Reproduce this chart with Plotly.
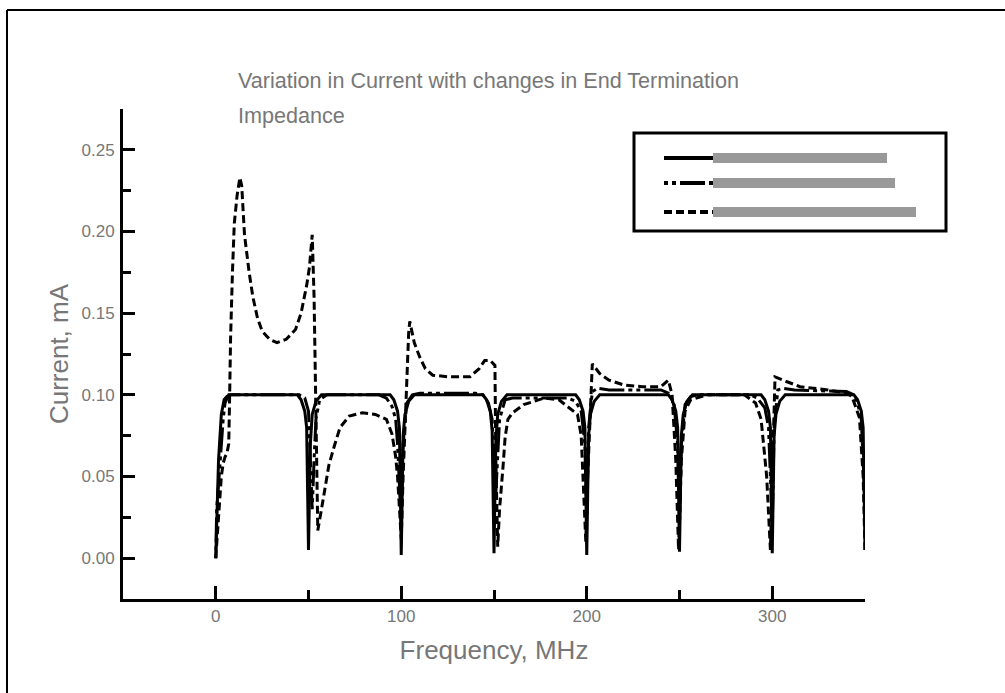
import plotly.graph_objects as go

# ---------------- data ----------------
freq_solid = [0, 0.5, 1.5, 3, 4.5, 6, 8,
              44, 46, 48, 49, 50, 51, 52, 54, 57,
              94, 96, 98, 99, 100, 101, 102, 104, 107,
              144, 146, 148, 149, 150, 151, 152, 154, 157,
              194, 196, 198, 199, 200, 201, 202, 204, 207,
              244, 246, 248, 249, 250, 251, 252, 254, 257,
              294, 296, 298, 299, 300, 301, 302, 304, 307,
              344, 346, 348, 349, 350]
cur_solid = [0.0, 0.02, 0.06, 0.088, 0.097, 0.099, 0.100,
             0.100, 0.097, 0.090, 0.080, 0.005, 0.070, 0.088, 0.096, 0.100,
             0.100, 0.097, 0.090, 0.080, 0.002, 0.075, 0.088, 0.096, 0.100,
             0.100, 0.097, 0.090, 0.078, 0.003, 0.072, 0.088, 0.096, 0.100,
             0.100, 0.097, 0.090, 0.080, 0.002, 0.075, 0.088, 0.096, 0.100,
             0.100, 0.097, 0.090, 0.080, 0.004, 0.075, 0.088, 0.096, 0.100,
             0.100, 0.097, 0.090, 0.080, 0.003, 0.075, 0.088, 0.096, 0.100,
             0.100, 0.097, 0.090, 0.080, 0.005]

freq_dashdot = [0, 0.5, 1.5, 3, 4, 5, 7, 45, 48, 50,
                51, 52, 53, 54, 56, 60, 88, 92, 95, 97,
                98, 99, 100, 101, 103, 106, 110, 140, 144, 147,
                149, 150, 151, 153, 156, 160, 190, 194, 197, 199,
                200, 201, 203, 206, 212, 240, 244, 247, 249, 250,
                251, 253, 256, 260, 288, 292, 296, 298, 299, 300,
                301, 303, 306, 312, 340, 344, 346, 348, 349, 350]
cur_dashdot = [0.0, 0.03, 0.045, 0.07, 0.085, 0.095, 0.10, 0.10, 0.098, 0.09,
               0.06, 0.03, 0.06, 0.085, 0.097, 0.10, 0.10, 0.098, 0.093, 0.085,
               0.07, 0.04, 0.02, 0.07, 0.095, 0.10, 0.101, 0.101, 0.10, 0.095,
               0.085, 0.06, 0.04, 0.085, 0.097, 0.098, 0.098, 0.096, 0.09, 0.07,
               0.03, 0.08, 0.102, 0.104, 0.103, 0.103, 0.101, 0.095, 0.07, 0.02,
               0.07, 0.094, 0.099, 0.10, 0.10, 0.098, 0.092, 0.08, 0.05, 0.02,
               0.08, 0.103, 0.104, 0.103, 0.102, 0.10, 0.095, 0.085, 0.06, 0.03]

freq_dash = [0, 1, 2, 3, 4, 5, 6, 7, 7.5, 8,
             9, 10, 11.5, 13, 14, 15.5, 18, 20, 22.5, 25,
             29, 33, 38, 43, 46, 47.5, 49, 50.5, 52, 53,
             54, 55, 57, 59, 61, 64, 67, 72, 79, 86,
             92, 95, 97, 98, 99, 100, 101, 102, 103, 104,
             104.6, 107, 110, 113, 117, 126, 137, 142, 145, 148,
             150.5, 151, 152, 153, 155, 156, 157.5, 160, 166, 177,
             185, 192, 195, 197, 198.5, 199.5, 200.5, 201.5, 203, 207,
             212, 220, 230, 240, 244, 246, 248, 249.5, 251, 253,
             256, 265, 285, 291, 294, 297, 299, 300.5, 301.5, 308,
             315, 330, 340, 343, 347, 349, 350]
cur_dash = [0.0, 0.015, 0.035, 0.05, 0.058, 0.062, 0.064, 0.07, 0.10, 0.135,
            0.175, 0.205, 0.222, 0.233, 0.228, 0.198, 0.175, 0.16, 0.147, 0.139,
            0.134, 0.132, 0.134, 0.14, 0.15, 0.158, 0.167, 0.178, 0.198, 0.16,
            0.08, 0.017, 0.03, 0.045, 0.057, 0.069, 0.08, 0.087, 0.089, 0.088,
            0.085, 0.076, 0.062, 0.05, 0.03, 0.012, 0.05, 0.08, 0.10, 0.138,
            0.145, 0.132, 0.123, 0.116, 0.112, 0.111, 0.111, 0.116, 0.121, 0.121,
            0.118, 0.06, 0.007, 0.03, 0.058, 0.074, 0.085, 0.089, 0.094, 0.098,
            0.097, 0.091, 0.088, 0.075, 0.04, 0.01, 0.05, 0.078, 0.119, 0.113,
            0.109, 0.106, 0.105, 0.105, 0.109, 0.10, 0.06, 0.005, 0.06, 0.09,
            0.097, 0.10, 0.10, 0.095, 0.085, 0.05, 0.005, 0.07, 0.111, 0.108,
            0.105, 0.103, 0.101, 0.099, 0.086, 0.05, 0.005]

x_ticks = [0, 100, 200, 300]
y_ticks = [0.00, 0.05, 0.10, 0.15, 0.20, 0.25]
title_lines = ["Variation in Current with changes in End Termination", "Impedance"]
x_title = "Frequency, MHz"
y_title = "Current, mA"

# ---------------- layout helpers ----------------
W, H = 1005, 693
ML, MR, MT, MB = 123, 140, 109, 94
PW, PH = W - ML - MR, H - MT - MB


def px(x):
    return (x - ML) / PW


def py(y):
    return (H - MB - y) / PH


FONT = "Liberation Sans, Arial, sans-serif"
TXT = "#777777"
DASH = "8px,4px"
DASHDOT = "4px,4px,4px,4px,25px,4px"

fig = go.Figure()
for fx, cy, dash in [(freq_solid, cur_solid, "solid"),
                     (freq_dashdot, cur_dashdot, DASHDOT),
                     (freq_dash, cur_dash, DASH)]:
    fig.add_trace(go.Scatter(x=fx, y=cy, mode="lines",
                             line=dict(color="black", width=3, dash=dash),
                             showlegend=False, hoverinfo="skip"))

shapes = []
# outer frame (top and left edges visible in the scan)
shapes.append(dict(type="line", xref="paper", yref="paper",
                   x0=px(7), x1=px(1005), y0=py(10), y1=py(10),
                   line=dict(color="black", width=2)))
shapes.append(dict(type="line", xref="paper", yref="paper",
                   x0=px(7), x1=px(7), y0=py(10), y1=py(693),
                   line=dict(color="black", width=2)))
# legend box
shapes.append(dict(type="rect", xref="paper", yref="paper",
                   x0=px(634), x1=px(946), y0=py(133), y1=py(231),
                   line=dict(color="black", width=3), fillcolor="white"))
legend_rows = [(158, "solid", 887), (183, DASHDOT, 895), (212, DASH, 916)]
for yy, dash, xend in legend_rows:
    shapes.append(dict(type="line", xref="paper", yref="paper",
                       x0=px(664), x1=px(713), y0=py(yy), y1=py(yy),
                       line=dict(color="black", width=4, dash=dash)))
    shapes.append(dict(type="rect", xref="paper", yref="paper",
                       x0=px(713), x1=px(xend), y0=py(yy - 5), y1=py(yy + 5),
                       line=dict(width=0), fillcolor="#999999"))

annotations = []
for t, yy in zip(title_lines, [81, 115]):
    annotations.append(dict(text=t, xref="paper", yref="paper",
                            x=px(236), y=py(yy), xanchor="left", yanchor="middle",
                            showarrow=False,
                            font=dict(family=FONT, size=21.6, color=TXT)))

fig.update_layout(
    width=W, height=H,
    margin=dict(l=ML, r=MR, t=MT, b=MB),
    paper_bgcolor="white", plot_bgcolor="white",
    shapes=shapes, annotations=annotations,
    font=dict(family=FONT, color=TXT),
)
fig.update_xaxes(
    range=[-50, 350], tickvals=x_ticks, ticks="inside", ticklen=13, tickwidth=3,
    tickcolor="black", showline=True, linewidth=3, linecolor="black",
    showgrid=False, zeroline=False,
    minor=dict(dtick=50, tick0=0, ticks="inside", ticklen=9, tickwidth=3, tickcolor="black", showgrid=False),
    tickfont=dict(family=FONT, size=17, color=TXT),
    title=dict(text=x_title, font=dict(family=FONT, size=26, color=TXT), standoff=16),
)
fig.update_yaxes(
    range=[-0.025, 0.275], tickvals=y_ticks, tickformat=".2f", ticks="inside", ticklen=12,
    tickwidth=3, tickcolor="black", showline=True, linewidth=3, linecolor="black",
    showgrid=False, zeroline=False,
    minor=dict(dtick=0.025, tick0=0, ticks="inside", ticklen=8, tickwidth=3, tickcolor="black", showgrid=False),
    tickfont=dict(family=FONT, size=17, color=TXT), ticklabelstandoff=2,
    title=dict(text=y_title, font=dict(family=FONT, size=26, color=TXT), standoff=6),
)

fig.write_html("out.html", config={"displayModeBar": False},
               post_script="document.body.style.margin='0px';")
